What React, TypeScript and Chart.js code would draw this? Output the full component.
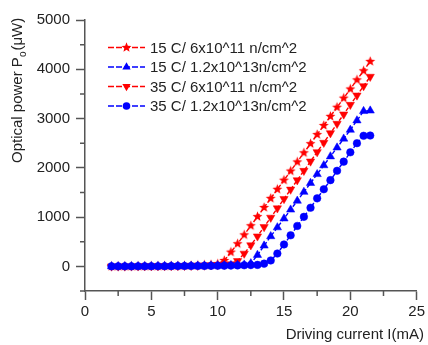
import React, { useEffect, useRef } from 'react';
import { Chart, registerables } from 'chart.js';

Chart.register(...registerables);

const currents = [2, 2.5, 3, 3.5, 4, 4.5, 5, 5.5, 6, 6.5, 7, 7.5, 8, 8.5, 9, 9.5, 10, 10.5, 11, 11.5, 12, 12.5, 13, 13.5, 14, 14.5, 15, 15.5, 16, 16.5, 17, 17.5, 18, 18.5, 19, 19.5, 20, 20.5, 21, 21.5];

const power15Low = [0, 0, 1, 2, 3, 4, 5, 6, 8, 10, 12, 15, 18, 22, 27, 33, 50, 120, 290, 460, 640, 825, 1010, 1195, 1380, 1565, 1750, 1935, 2120, 2305, 2490, 2675, 2860, 3045, 3230, 3415, 3600, 3785, 3970, 4160];
const power15High = [0, 0, 0, 1, 1, 2, 3, 4, 5, 6, 7, 8, 10, 12, 14, 16, 18, 21, 24, 28, 34, 60, 230, 420, 610, 790, 970, 1150, 1330, 1510, 1690, 1870, 2050, 2230, 2410, 2590, 2770, 2960, 3150, 3160];
const power35Low = [0, 0, 0, 1, 2, 3, 4, 5, 6, 7, 9, 11, 13, 16, 19, 23, 28, 34, 45, 110, 260, 430, 610, 800, 990, 1180, 1370, 1560, 1750, 1940, 2130, 2320, 2510, 2705, 2895, 3085, 3280, 3470, 3660, 3850];
const power35High = [0, 0, 0, 0, 1, 1, 2, 2, 3, 4, 5, 6, 7, 8, 9, 10, 12, 14, 16, 19, 22, 26, 30, 55, 120, 260, 445, 630, 820, 1005, 1190, 1380, 1565, 1750, 1940, 2125, 2315, 2500, 2650, 2655];

const seriesLabels = [
  '15 C/ 6x10^11 n/cm^2',
  '15 C/ 1.2x10^13n/cm^2',
  '35 C/ 6x10^11 n/cm^2',
  '35 C/ 1.2x10^13n/cm^2',
];
const seriesColors = ['#ff0000', '#0000ff', '#ff0000', '#0000ff'];
const seriesMarkers = ['star', 'triUp', 'triDown', 'circle'];
const seriesValues = [power15Low, power15High, power35Low, power35High];
const seriesOrder = [4, 2, 3, 1];

const xTicks = [0, 5, 10, 15, 20, 25];
const xMinorTicks = [2.5, 7.5, 12.5, 17.5, 22.5];
const yTicks = [0, 1000, 2000, 3000, 4000, 5000];
const yMinorTicks = [-500, 500, 1500, 2500, 3500, 4500];

const xTitle = 'Driving current I(mA)';
const yTitleMain = 'Optical power P';
const yTitleSub = 'o';
const yTitleTail = '(\u03BCW)';

const FONT = '"Liberation Sans", Arial, sans-serif';
const TEXT = '#222222';
const AXIS = '#555555';

function makeStar(color: string, outer: number, inner: number) {
  const size = Math.ceil(outer * 2 + 2);
  const c = document.createElement('canvas');
  c.width = size;
  c.height = size;
  const ctx = c.getContext('2d')!;
  ctx.fillStyle = color;
  ctx.beginPath();
  for (let i = 0; i < 10; i++) {
    const r = i % 2 === 0 ? outer : inner;
    const a = -Math.PI / 2 + (i * Math.PI) / 5;
    ctx.lineTo(size / 2 + r * Math.cos(a), size / 2 + r * Math.sin(a));
  }
  ctx.closePath();
  ctx.fill();
  return c;
}

function drawMarker(ctx: CanvasRenderingContext2D, kind: string, color: string, x: number, y: number, star: HTMLCanvasElement) {
  ctx.save();
  ctx.fillStyle = color;
  ctx.beginPath();
  if (kind === 'star') {
    ctx.drawImage(star, x - star.width / 2, y - star.height / 2);
  } else if (kind === 'circle') {
    ctx.arc(x, y, 3.8, 0, Math.PI * 2);
    ctx.fill();
  } else {
    const r = 4.8;
    const s = kind === 'triUp' ? 1 : -1;
    ctx.moveTo(x, y - s * r);
    ctx.lineTo(x + r * Math.sin((2 * Math.PI) / 3), y + s * r * 0.5);
    ctx.lineTo(x - r * Math.sin((2 * Math.PI) / 3), y + s * r * 0.5);
    ctx.closePath();
    ctx.fill();
  }
  ctx.restore();
}

export default function App() {
  const ref = useRef<HTMLCanvasElement | null>(null);

  useEffect(() => {
    if (!ref.current) return;
    const star = makeStar('#ff0000', 5.2, 2.3);

    const datasets = seriesValues.map((vals, i) => {
      const kind = seriesMarkers[i];
      let pointStyle: any = 'circle';
      let rotation = 0;
      let radius = 3.8;
      if (kind === 'star') { pointStyle = star; radius = 5; }
      if (kind === 'triUp') { pointStyle = 'triangle'; radius = 4.8; }
      if (kind === 'triDown') { pointStyle = 'triangle'; rotation = 180; radius = 4.8; }
      return {
        label: seriesLabels[i],
        data: currents.map((x, k) => ({ x, y: vals[k] })),
        borderColor: seriesColors[i],
        backgroundColor: seriesColors[i],
        pointBackgroundColor: seriesColors[i],
        pointBorderColor: seriesColors[i],
        pointBorderWidth: 0.5,
        pointStyle,
        pointRotation: rotation,
        pointRadius: radius,
        borderWidth: 1.4,
        borderDash: [4, 2],
        order: seriesOrder[i],
        tension: 0,
      };
    });

    const extras = {
      id: 'extras',
      afterDraw(chart: any) {
        const ctx: CanvasRenderingContext2D = chart.ctx;
        const xs = chart.scales.x;
        const ys = chart.scales.y;
        const area = chart.chartArea;
        ctx.save();
        // minor ticks
        ctx.strokeStyle = AXIS;
        ctx.lineWidth = 1.5;
        ctx.beginPath();
        xMinorTicks.forEach((v) => {
          const px = xs.getPixelForValue(v);
          ctx.moveTo(px, area.bottom);
          ctx.lineTo(px, area.bottom + 5);
        });
        yMinorTicks.forEach((v) => {
          const py = ys.getPixelForValue(v);
          ctx.moveTo(area.left, py);
          ctx.lineTo(area.left - 5, py);
        });
        ctx.stroke();

        // legend
        const rowY = [47.5, 67, 86.5, 106];
        ctx.font = `15px ${FONT}`;
        ctx.textBaseline = 'middle';
        ctx.textAlign = 'left';
        seriesLabels.forEach((label, i) => {
          const y = rowY[i];
          ctx.save();
          ctx.strokeStyle = seriesColors[i];
          ctx.lineWidth = 1.4;
          ctx.setLineDash([6, 2]);
          ctx.beginPath();
          ctx.moveTo(108, y);
          ctx.lineTo(145, y);
          ctx.stroke();
          ctx.restore();
          drawMarker(ctx, seriesMarkers[i], seriesColors[i], 126.5, y, star);
          ctx.fillStyle = TEXT;
          ctx.fillText(label, 150, y + 1);
        });

        // x title
        ctx.fillStyle = TEXT;
        ctx.textAlign = 'right';
        ctx.textBaseline = 'middle';
        ctx.font = `15px ${FONT}`;
        ctx.fillText(xTitle, 424, 335);

        // y title with subscript
        ctx.translate(22, 163);
        ctx.rotate(-Math.PI / 2);
        ctx.textAlign = 'left';
        ctx.textBaseline = 'alphabetic';
        ctx.font = `15px ${FONT}`;
        ctx.fillText(yTitleMain, 0, 0);
        let off = ctx.measureText(yTitleMain).width;
        ctx.font = `10px ${FONT}`;
        ctx.fillText(yTitleSub, off, 4);
        off += ctx.measureText(yTitleSub).width + 1;
        ctx.font = `15px ${FONT}`;
        ctx.fillText(yTitleTail, off, 0);
        ctx.restore();
      },
    };

    const chart = new Chart(ref.current, {
      type: 'line',
      data: { datasets: datasets as any },
      plugins: [extras as any],
      options: {
        animation: false,
        responsive: true,
        maintainAspectRatio: false,
        layout: { padding: { left: 0, top: 20, right: 8, bottom: 0 } },
        plugins: { legend: { display: false }, tooltip: { enabled: false } },
        scales: {
          x: {
            type: 'linear',
            min: 0,
            max: 25,
            afterBuildTicks: (s: any) => { s.ticks = xTicks.map((v) => ({ value: v })); },
            afterFit: (s: any) => { s.height = 54; },
            border: { display: true, color: AXIS, width: 1.5 },
            grid: { drawOnChartArea: false, drawTicks: true, tickLength: 9, tickColor: AXIS, tickWidth: 1.5 },
            ticks: { color: TEXT, font: { family: FONT, size: 15 }, padding: 3, maxRotation: 0, callback: (v: any) => String(v) },
          },
          y: {
            type: 'linear',
            min: -500,
            max: 5000,
            afterBuildTicks: (s: any) => { s.ticks = yTicks.map((v) => ({ value: v })); },
            afterFit: (s: any) => { s.width = 85; },
            border: { display: true, color: AXIS, width: 1.5 },
            grid: { drawOnChartArea: false, drawTicks: true, tickLength: 9, tickColor: AXIS, tickWidth: 1.5 },
            ticks: { color: TEXT, font: { family: FONT, size: 15 }, padding: 6, callback: (v: any) => String(v) },
          },
        },
      },
    });
    return () => chart.destroy();
  }, []);

  return (
    <div style={{ position: 'fixed', left: 0, top: 0, width: 428, height: 345, background: '#fff' }}>
      <canvas ref={ref} />
    </div>
  );
}
